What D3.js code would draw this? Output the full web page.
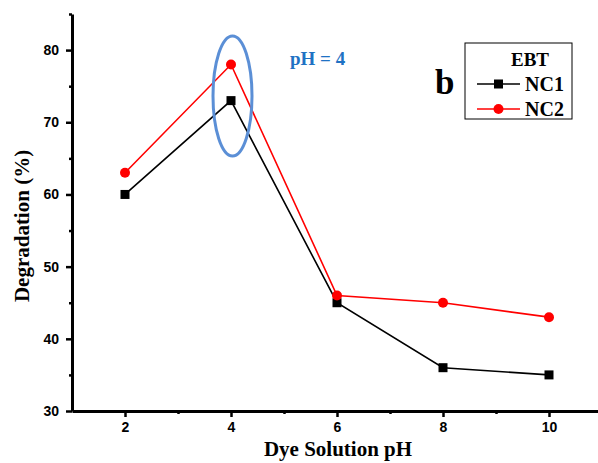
<!DOCTYPE html>
<html>
<head>
<meta charset="utf-8">
<script src="https://cdn.jsdelivr.net/npm/d3@7"></script>
<style>
  body { margin: 0; background: #fff; }
  svg { display: block; }
</style>
</head>
<body>
<svg id="chart" width="598" height="463"></svg>
<script>
const phValues = [2, 4, 6, 8, 10];
const nc1 = [60, 73, 45, 36, 35];
const nc2 = [63, 78, 46, 45, 43];
const xTicks = [2, 4, 6, 8, 10];
const yTicks = [30, 40, 50, 60, 70, 80];

const svg = d3.select("#chart");
const SERIF = "'Liberation Serif', 'Times New Roman', serif";
const SANS = "'Liberation Sans', Arial, sans-serif";

// plot frame: only left and bottom axes
const plotLeft = 72, plotBottom = 411, plotTop = 14;
const x = d3.scaleLinear().domain([1, 11]).range([plotLeft, 602]);
const y = d3.scaleLinear().domain([30, 85]).range([plotBottom, plotTop]);

const g = svg.append("g");

// x axis
const xAxis = g.append("g").attr("transform", `translate(0,${plotBottom})`);
xAxis.call(d3.axisBottom(x).tickValues(xTicks).tickSize(6).tickSizeOuter(0).tickPadding(5));
xAxis.append("g").call(d3.axisBottom(x).tickValues([3, 5, 7, 9]).tickSize(3).tickFormat(""))
  .select(".domain").remove();

// y axis
const yAxis = g.append("g").attr("transform", `translate(${plotLeft},0)`);
yAxis.call(d3.axisLeft(y).tickValues(yTicks).tickSize(6).tickSizeOuter(0).tickPadding(7));
yAxis.append("g").call(d3.axisLeft(y).tickValues([35, 45, 55, 65, 75, 85]).tickSize(3).tickFormat(""))
  .select(".domain").remove();

[xAxis, yAxis].forEach((a) => {
  a.attr("font-size", null).attr("font-family", null);
  a.selectAll(".domain").attr("stroke", "#000").attr("stroke-width", 3);
  a.selectAll(".tick line").attr("stroke", "#000").attr("stroke-width", 2.5);
  a.selectAll(".tick text")
    .attr("fill", "#000")
    .attr("font-family", SANS)
    .attr("font-weight", "bold")
    .attr("font-size", 14);
});

// axis titles
svg.append("text")
  .attr("x", 338).attr("y", 456)
  .attr("text-anchor", "middle")
  .style("font-family", SERIF).style("font-weight", "bold").style("font-size", "21px")
  .text("Dye Solution pH");

svg.append("text")
  .attr("transform", "translate(29,226) rotate(-90)")
  .attr("text-anchor", "middle")
  .style("font-family", SERIF).style("font-weight", "bold").style("font-size", "21px")
  .text("Degradation (%)");

// series
const series = [
  { name: "NC1", values: nc1, color: "#000000", shape: "square" },
  { name: "NC2", values: nc2, color: "#ff0000", shape: "circle" },
];

const line = d3.line().x((d) => x(d[0])).y((d) => y(d[1]));

series.forEach((s) => {
  const pts = phValues.map((p, i) => [p, s.values[i]]);
  g.append("path")
    .datum(pts)
    .attr("fill", "none")
    .attr("stroke", s.color)
    .attr("stroke-width", 1.6)
    .attr("d", line);
  if (s.shape === "square") {
    g.selectAll(null).data(pts).enter().append("rect")
      .attr("x", (d) => x(d[0]) - 4.5)
      .attr("y", (d) => y(d[1]) - 4.5)
      .attr("width", 9).attr("height", 9)
      .attr("fill", s.color);
  } else {
    g.selectAll(null).data(pts).enter().append("circle")
      .attr("cx", (d) => x(d[0]))
      .attr("cy", (d) => y(d[1]))
      .attr("r", 5)
      .attr("fill", s.color);
  }
});

// highlight ellipse around pH = 4
svg.append("ellipse")
  .attr("cx", x(4) + 1.5).attr("cy", 96)
  .attr("rx", 19.5).attr("ry", 60)
  .attr("fill", "none")
  .attr("stroke", "#5b8fd6")
  .attr("stroke-width", 3);

svg.append("text")
  .attr("x", 290).attr("y", 65)
  .attr("fill", "#1f72c4")
  .style("font-family", SERIF).style("font-weight", "bold").style("font-size", "19px")
  .text("pH = 4");

// panel letter
svg.append("text")
  .attr("x", 435).attr("y", 94)
  .style("font-family", SERIF).style("font-weight", "bold").style("font-size", "35px")
  .text("b");

// legend
const lg = svg.append("g").attr("transform", "translate(465,43)");
lg.append("rect")
  .attr("width", 107).attr("height", 76)
  .attr("fill", "#fff").attr("stroke", "#000").attr("stroke-width", 1);
lg.append("text")
  .attr("x", 65).attr("y", 23)
  .attr("text-anchor", "middle")
  .style("font-family", SERIF).style("font-weight", "bold").style("font-size", "19px")
  .text("EBT");
series.forEach((s, i) => {
  const ly = 41 + i * 25;
  lg.append("line")
    .attr("x1", 12).attr("x2", 55).attr("y1", ly).attr("y2", ly)
    .attr("stroke", s.color).attr("stroke-width", 1.6);
  if (s.shape === "square") {
    lg.append("rect").attr("x", 29).attr("y", ly - 4.5).attr("width", 9).attr("height", 9).attr("fill", s.color);
  } else {
    lg.append("circle").attr("cx", 33.5).attr("cy", ly).attr("r", 5).attr("fill", s.color);
  }
  lg.append("text")
    .attr("x", 60).attr("y", ly + 7)
    .style("font-family", SERIF).style("font-weight", "bold").style("font-size", "20px")
    .text(s.name);
});
</script>
</body>
</html>
